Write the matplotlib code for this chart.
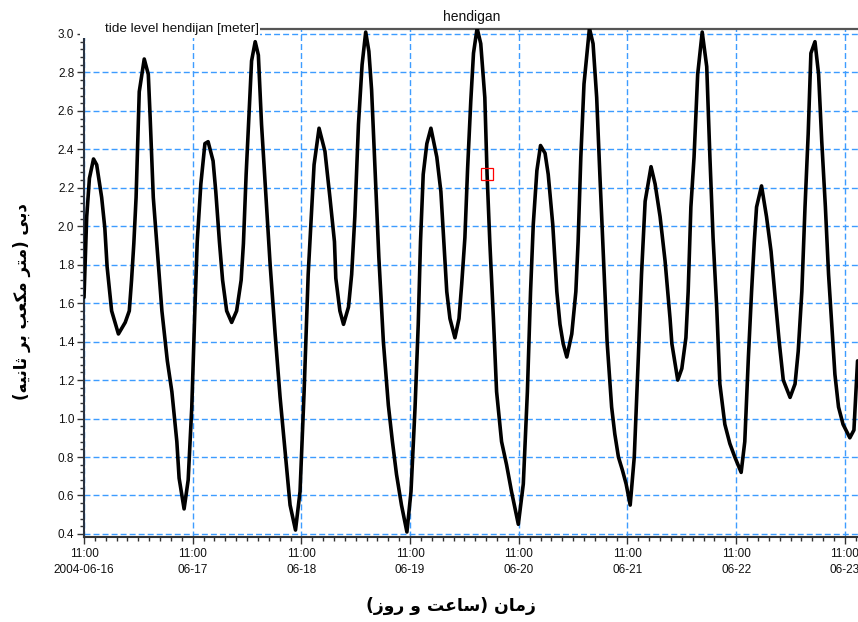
import numpy as np
import pandas as pd
import matplotlib
matplotlib.use("Agg")
import matplotlib.pyplot as plt
import matplotlib.dates as mdates
from matplotlib.ticker import MultipleLocator, FixedLocator, FixedFormatter, FormatStrFormatter
from matplotlib.patches import Rectangle

plt.rcParams['font.family'] = ['Liberation Sans', 'DejaVu Sans']
plt.rcParams['lines.scale_dashes'] = True

# ---------------- data ----------------
start_time = "2004-06-16 11:00"
# hours since start_time
hours = [0.0, 0.6, 1.2, 2.1, 2.8, 3.9, 4.6, 5.1, 6.1, 7.6, 9.1, 10.0, 10.5, 11.0, 11.5,
         12.2, 13.3, 14.2, 14.6, 15.3, 16.2, 17.2, 18.4, 19.4, 20.5, 21.0, 22.1, 23.0,
         23.8, 24.5, 25.0, 25.8, 26.7, 27.4, 28.5, 29.1, 29.9, 30.6, 31.5, 32.6, 33.7,
         34.7, 35.2, 35.8, 36.5, 37.0, 37.8, 38.5, 39.2, 40.1, 41.1, 42.2, 43.3,
         44.4, 45.5, 46.7, 47.7, 48.6, 49.5, 50.3, 50.8, 51.9, 53.2, 54.3, 55.3, 55.6,
         56.5, 57.3, 58.4, 59.1, 59.8, 60.6, 61.4, 62.2, 62.9, 63.5, 64.3, 65.1, 66.1,
         67.2, 68.1, 69.0, 70.1, 71.3, 72.2, 73.1, 73.8, 74.3, 74.9, 75.7, 76.6, 77.9,
         78.8, 79.3, 80.1, 80.8, 81.9, 82.8, 83.4, 84.1, 84.7, 85.4, 86.0, 86.8, 87.6,
         88.5, 89.0, 89.6, 90.4, 91.1, 92.2, 93.3, 94.4, 95.9, 97.0, 97.9, 98.6, 99.2,
         100.0, 100.8, 101.8, 102.5, 103.5, 104.4, 105.1, 105.8, 106.6, 107.7, 108.6,
         109.1, 109.7, 110.4, 111.6, 112.4, 113.2, 113.9, 114.7, 115.5, 116.5, 117.2,
         118.0, 118.9, 119.7, 120.6, 121.5, 122.4, 123.1, 123.9, 125.2, 126.1, 127.2,
         128.3, 129.4, 129.8, 131.1, 132.0, 132.9, 133.4, 134.0, 134.7, 135.5, 136.5,
         137.5, 138.2, 138.9, 139.7, 140.4, 141.5, 142.6, 143.7, 145.1, 145.9, 146.7,
         147.4, 148.0, 148.5, 149.6, 150.7, 151.7, 152.6, 153.5, 154.4, 155.9, 157.0,
         157.7, 158.5, 159.2, 159.9, 160.5, 161.4, 162.2, 162.9, 163.7, 164.4, 165.1,
         165.8, 166.6, 167.6, 169.1, 170.0, 170.8]
level = [1.63, 2.05, 2.25, 2.35, 2.32, 2.15, 1.99, 1.79, 1.56, 1.44, 1.50, 1.56, 1.72, 1.91, 2.15,
         2.70, 2.87, 2.79, 2.57, 2.15, 1.87, 1.56, 1.30, 1.14, 0.88, 0.69, 0.53, 0.68,
         1.06, 1.58, 1.92, 2.22, 2.43, 2.44, 2.34, 2.18, 1.92, 1.72, 1.56, 1.50, 1.56,
         1.72, 1.91, 2.27, 2.62, 2.86, 2.96, 2.89, 2.53, 2.18, 1.80, 1.44, 1.11,
         0.83, 0.55, 0.42, 0.62, 1.14, 1.75, 2.10, 2.32, 2.51, 2.39, 2.15, 1.92, 1.73,
         1.56, 1.49, 1.58, 1.75, 2.05, 2.53, 2.84, 3.01, 2.91, 2.71, 2.27, 1.84, 1.40,
         1.07, 0.88, 0.71, 0.55, 0.41, 0.62, 1.06, 1.49, 1.92, 2.27, 2.43, 2.51, 2.36,
         2.18, 1.98, 1.66, 1.52, 1.42, 1.52, 1.70, 1.94, 2.30, 2.65, 2.90, 3.03, 2.95,
         2.67, 2.27, 1.92, 1.52, 1.14, 0.88, 0.76, 0.62, 0.45, 0.66, 1.14, 1.66, 2.01,
         2.29, 2.42, 2.38, 2.27, 2.01, 1.66, 1.49, 1.39, 1.32, 1.44, 1.66,
         1.92, 2.36, 2.74, 3.03, 2.95, 2.67, 2.27, 1.84, 1.40, 1.06, 0.92,
         0.80, 0.73, 0.66, 0.55, 0.80, 1.32, 1.75, 2.13, 2.31, 2.22, 2.05,
         1.82, 1.52, 1.39, 1.20, 1.26, 1.42, 1.66, 2.10, 2.36, 2.79, 3.01,
         2.83, 2.36, 1.94, 1.58, 1.18, 0.97, 0.87, 0.80, 0.72, 0.88, 1.32,
         1.66, 1.92, 2.10, 2.21, 2.05, 1.87, 1.63, 1.40, 1.20, 1.11, 1.18,
         1.35, 1.66, 2.10, 2.48, 2.90, 2.96, 2.79, 2.44, 2.10, 1.75, 1.49,
         1.23, 1.06, 0.97, 0.90, 0.94, 1.30]

cursor_hour = 89.0
cursor_level = 2.27

x_tick_labels = ["11:00\n2004-06-16", "11:00\n06-17", "11:00\n06-18", "11:00\n06-19",
                 "11:00\n06-20", "11:00\n06-21", "11:00\n06-22", "11:00\n06-23"]
y_ticks = [0.4, 0.6, 0.8, 1.0, 1.2, 1.4, 1.6, 1.8, 2.0, 2.2, 2.4, 2.6, 2.8, 3.0]

title_text = "hendigan"
series_text = "tide level hendijan [meter]"
# Persian labels in visual (pre-shaped) order
ylabel_text = ("(" + "\uFEEA\uFEF4\uFEE7\uFE8E\uFE9B" + " " + "\uFEAE\uFE91" + " "
               + "\uFE90\uFECC\uFEDC\uFEE3" + " " + "\uFEAE\uFE98\uFEE3" + ")" + " "
               + "\uFEF0\uFE91\uFEA9")
xlabel_text = ("(" + "\uFEAF\uFEED\uFEAD" + " " + "\uFEED" + " "
               + "\uFE96\uFECB\uFE8E\uFEB3" + ")" + " " + "\uFEE5\uFE8E\uFEE3\uFEAF")

# ---------------- figure ----------------
W, H = 858, 622
fig = plt.figure(figsize=(W / 100, H / 100), dpi=100)
ax = fig.add_axes([84 / W, 1 - 537 / H, 1 - 84 / W, (537 - 29) / H])

base = pd.Timestamp(start_time)
t = mdates.date2num(base + pd.to_timedelta(hours, unit="h"))
base_num = mdates.date2num(base)

ax.plot(t, level, color="black", lw=2.6, solid_joinstyle="round", solid_capstyle="round", zorder=3)
ax.plot([base_num + cursor_hour / 24], [cursor_level], marker="s", ms=8.5, mfc="none",
        mec="red", mew=0.9, ls="none", zorder=4)

ax.set_xlim(base_num, base_num + 170.9 / 24)
ax.set_ylim(0.384, 3.026)

major_x = [base_num + k for k in range(len(x_tick_labels))]
minor_x = [base_num + k * 0.1 for k in range(0, 72)]
ax.xaxis.set_major_locator(FixedLocator(major_x))
ax.xaxis.set_major_formatter(FixedFormatter(x_tick_labels))
ax.xaxis.set_minor_locator(FixedLocator(minor_x))
ax.yaxis.set_major_locator(FixedLocator(y_ticks))
ax.yaxis.set_major_formatter(FormatStrFormatter("%.1f"))
ax.yaxis.set_minor_locator(MultipleLocator(0.04))

ax.tick_params(axis="both", which="major", direction="out", length=5, width=1,
               color="#333333", labelsize=8.5, labelcolor="#111111")
ax.tick_params(axis="both", which="minor", direction="out", length=3, width=1, color="#333333")
ax.tick_params(axis="x", which="major", pad=3)
ax.tick_params(axis="y", which="major", pad=2)
for lbl in ax.get_xticklabels():
    lbl.set_linespacing(1.45)

ax.grid(True, which="major", color="#3d9cff", linestyle=(0, (4.3, 2.2)), linewidth=1)
ax.set_axisbelow(True)

ax.spines["right"].set_visible(False)
ax.spines["top"].set_color("#555555")
ax.spines["top"].set_linewidth(1.6)
ax.spines["left"].set_color("#2a3342")
ax.spines["left"].set_linewidth(1.5)
ax.spines["bottom"].set_color("#333333")
ax.spines["bottom"].set_linewidth(1.5)

# white box behind the series name
fig.add_artist(Rectangle((80 / W, 1 - 38 / H), 180 / W, 20 / H, transform=fig.transFigure,
                         facecolor="white", edgecolor="none", zorder=5))
fig.text(105 / W, 1 - 29 / H, series_text, ha="left", va="center", fontsize=9.7,
         color="#111111", zorder=6)
fig.text(472 / W, 1 - 17 / H, title_text, ha="center", va="center", fontsize=10,
         color="#111111")

fig.text(22 / W, 1 - 302 / H, ylabel_text, rotation=90, ha="center", va="center",
         fontsize=12, fontweight="bold", family=["DejaVu Sans"])
fig.text(451 / W, 1 - 606 / H, xlabel_text, ha="center", va="center",
         fontsize=12.4, fontweight="bold", family=["DejaVu Sans"])

fig.savefig("out.png", dpi=100)
